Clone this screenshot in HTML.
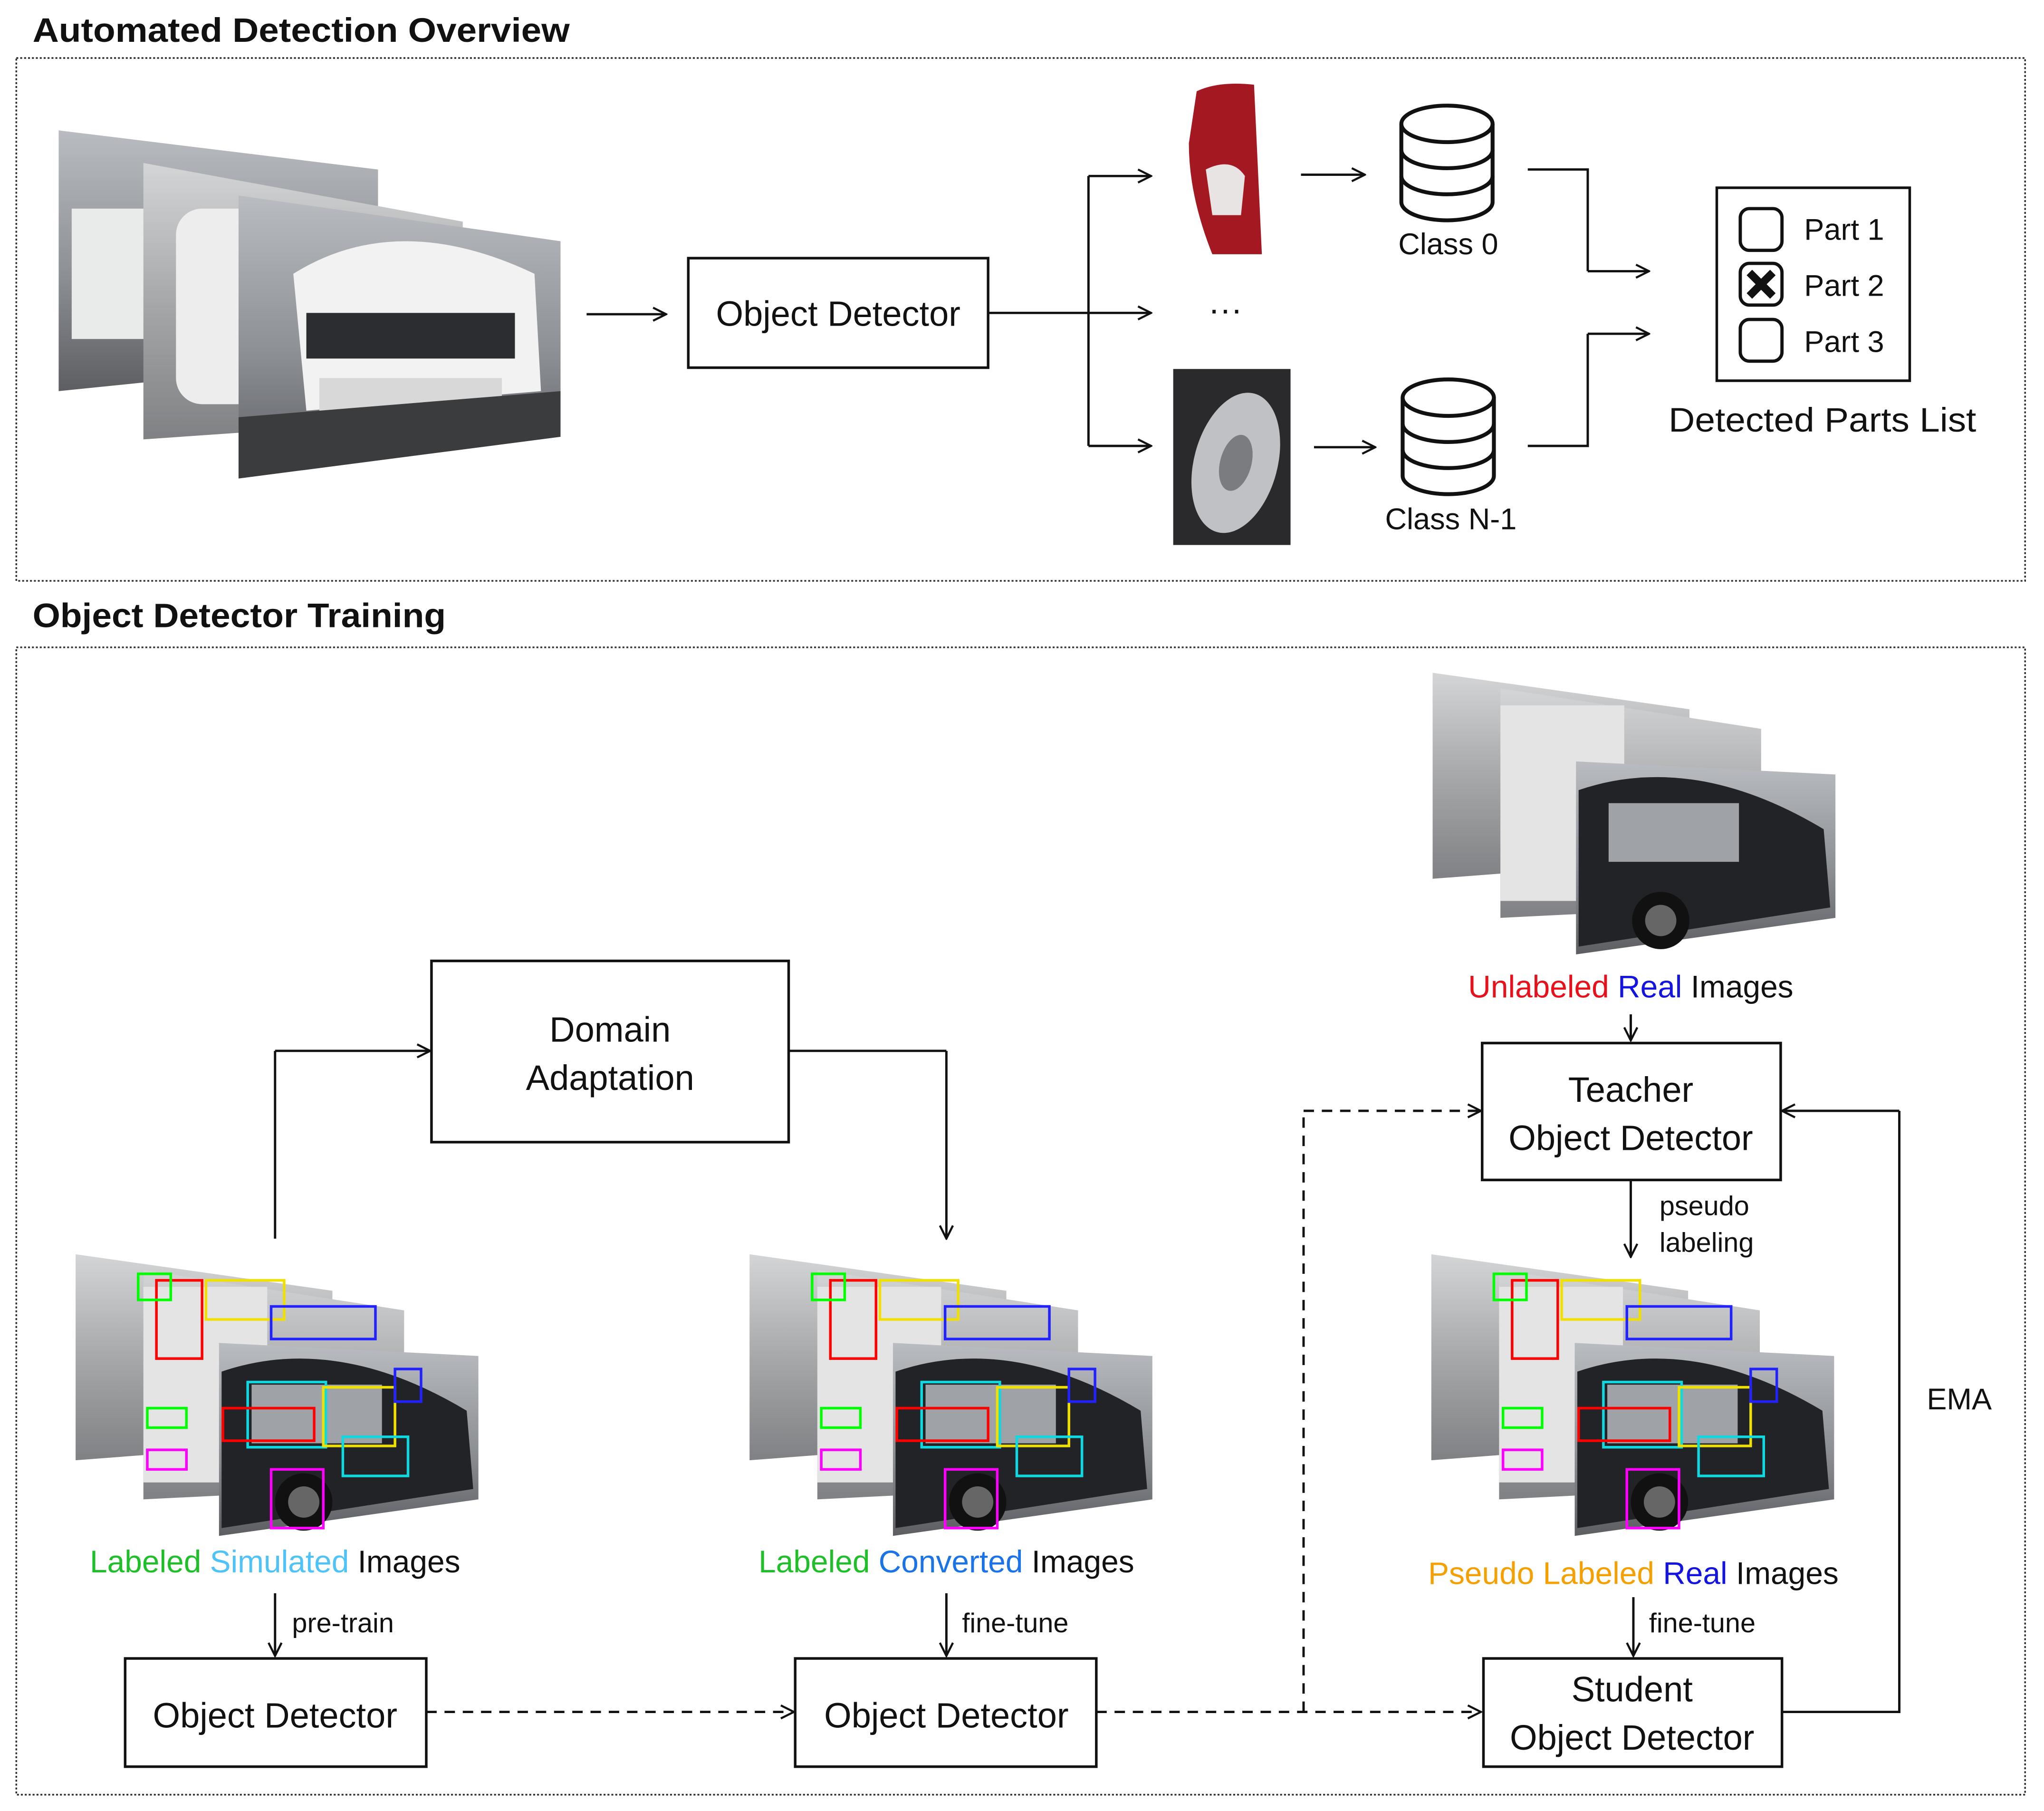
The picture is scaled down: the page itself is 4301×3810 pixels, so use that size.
<!DOCTYPE html>
<html><head><meta charset="utf-8"><style>
html,body{margin:0;padding:0;background:#fff}
svg{display:block}
text{font-family:"Liberation Sans",sans-serif;fill:#111}
</style></head><body>
<svg width="4301" height="3810" viewBox="0 0 1568 1389" xmlns="http://www.w3.org/2000/svg">
<defs>
<marker id="ah" viewBox="0 0 12 12" refX="11" refY="6" markerWidth="12" markerHeight="12" markerUnits="userSpaceOnUse" orient="auto"><path d="M1,1 L11,6 L1,11" fill="none" stroke="#111" stroke-width="1.6"/></marker>
<linearGradient id="bg1" x1="0" y1="0" x2="0" y2="1"><stop offset="0" stop-color="#b9bcc0"/><stop offset="0.55" stop-color="#8d9095"/><stop offset="1" stop-color="#5c5e62"/></linearGradient>
<linearGradient id="bg2" x1="0" y1="0" x2="0" y2="1"><stop offset="0" stop-color="#d4d5d6"/><stop offset="0.5" stop-color="#a7a8aa"/><stop offset="1" stop-color="#808184"/></linearGradient>
<g id="stackW">
<polygon points="0,0 245,30 245,175 0,200" fill="url(#bg1)"/>
<rect x="10" y="60" width="60" height="100" fill="#e9eaea"/>
<polygon points="65,25 310,70 310,220 65,237" fill="url(#bg2)"/>
<rect x="90" y="60" width="120" height="150" fill="#ededee" rx="20"/>
<polygon points="138,50 385,85 385,235 138,267" fill="url(#bg1)"/>
<path d="M180,110 Q260,60 365,110 L370,200 L190,215 Z" fill="#f2f2f2"/>
<rect x="190" y="140" width="160" height="35" fill="#2b2d30"/>
<rect x="200" y="190" width="140" height="25" fill="#d8d8d8"/>
<polygon points="138,220 385,200 385,235 138,267" fill="#3b3c3e"/>
</g>
<g id="stackD">
<polygon points="0,0 197,28 197,143 0,158" fill="url(#bg2)"/>
<polygon points="52,12 252,43 252,178 52,188" fill="url(#bg2)"/>
<rect x="52" y="25" width="95" height="150" fill="#e4e4e4"/>
<polygon points="110,68 309,78 309,188 110,216" fill="url(#bg1)"/>
<path d="M112,90 Q200,60 300,120 L305,180 L112,210 Z" fill="#222326"/>
<rect x="135" y="100" width="100" height="45" fill="#9fa2a6"/>
<circle cx="175" cy="190" r="22" fill="#111"/><circle cx="175" cy="190" r="12" fill="#666"/>
</g>
<g id="boxes">
<rect x="132" y="98" width="60" height="50" fill="none" stroke="#10d8e0" stroke-width="2"/>
<rect x="190" y="102" width="55" height="45" fill="none" stroke="#f0e000" stroke-width="2"/>
<rect x="113" y="118" width="70" height="25" fill="none" stroke="#f00" stroke-width="2"/>
<rect x="150" y="165" width="40" height="45" fill="none" stroke="#f0f" stroke-width="2"/>
<rect x="205" y="140" width="50" height="30" fill="none" stroke="#10d8e0" stroke-width="2"/>
<rect x="245" y="88" width="20" height="25" fill="none" stroke="#22f" stroke-width="2"/>
<rect x="62" y="20" width="35" height="60" fill="none" stroke="#f00" stroke-width="2"/>
<rect x="48" y="15" width="25" height="20" fill="none" stroke="#0f0" stroke-width="2"/>
<rect x="55" y="118" width="30" height="15" fill="none" stroke="#0f0" stroke-width="2"/>
<rect x="55" y="150" width="30" height="15" fill="none" stroke="#f0f" stroke-width="2"/>
<rect x="100" y="20" width="60" height="30" fill="none" stroke="#f0e000" stroke-width="2"/>
<rect x="150" y="40" width="80" height="25" fill="none" stroke="#22f" stroke-width="2"/>
</g>
</defs>

<text x="25" y="32" font-size="26" font-weight="bold" textLength="412" lengthAdjust="spacingAndGlyphs">Automated Detection Overview</text>
<rect x="12.5" y="44.5" width="1541" height="401" fill="none" stroke="#333" stroke-width="1.3" stroke-dasharray="1.5,1.5"/>
<use href="#stackW" x="45" y="100"/>
<line x1="450" y1="241" x2="511" y2="241" stroke="#111" stroke-width="1.8" marker-end="url(#ah)"/>
<rect x="528" y="198" width="230" height="84" fill="#fff" stroke="#111" stroke-width="2"/>
<text x="643" y="250" font-size="27" text-anchor="middle">Object Detector</text>
<path d="M758,240 H835 M835,135 V342" stroke="#111" stroke-width="1.8" fill="none"/>
<line x1="835" y1="135" x2="883" y2="135" stroke="#111" stroke-width="1.8" marker-end="url(#ah)"/>
<line x1="835" y1="240" x2="883" y2="240" stroke="#111" stroke-width="1.8" marker-end="url(#ah)"/>
<line x1="835" y1="342" x2="883" y2="342" stroke="#111" stroke-width="1.8" marker-end="url(#ah)"/>
<path d="M918,70 Q935,62 962,65 L968,195 L930,195 Q912,150 912,110 Z" fill="#a41822"/>
<path d="M925,130 Q945,120 955,135 L952,165 L930,165 Z" fill="#e8e4e4"/>
<text x="940" y="246" font-size="26" text-anchor="middle">···</text>
<rect x="900" y="283" width="90" height="135" fill="#2a2a2c"/>
<ellipse cx="948" cy="355" rx="32" ry="55" fill="#bfc1c4" transform="rotate(15 948 355)"/>
<ellipse cx="948" cy="355" rx="12" ry="22" fill="#7a7c80" transform="rotate(15 948 355)"/>
<line x1="998" y1="134" x2="1047" y2="134" stroke="#111" stroke-width="1.8" marker-end="url(#ah)"/>
<line x1="1008" y1="343" x2="1055" y2="343" stroke="#111" stroke-width="1.8" marker-end="url(#ah)"/>
<g fill="#fff" stroke="#111" stroke-width="3">
<path d="M1075,95 V155 A35,14 0 0 0 1145,155 V95"/>
<ellipse cx="1110" cy="95" rx="35" ry="14"/>
<path d="M1075,115 A35,14 0 0 0 1145,115 M1075,135 A35,14 0 0 0 1145,135" fill="none"/>
<path d="M1076,305 V365 A35,14 0 0 0 1146,365 V305"/>
<ellipse cx="1111" cy="305" rx="35" ry="14"/>
<path d="M1076,325 A35,14 0 0 0 1146,325 M1076,345 A35,14 0 0 0 1146,345" fill="none"/>
</g>
<text x="1111" y="195" font-size="23" text-anchor="middle">Class 0</text>
<text x="1113" y="406" font-size="23" text-anchor="middle">Class N-1</text>
<path d="M1172,130 H1218 V208" stroke="#111" stroke-width="1.8" fill="none"/>
<line x1="1218" y1="208" x2="1265" y2="208" stroke="#111" stroke-width="1.8" marker-end="url(#ah)"/>
<path d="M1172,342 H1218 V256" stroke="#111" stroke-width="1.8" fill="none"/>
<line x1="1218" y1="256" x2="1265" y2="256" stroke="#111" stroke-width="1.8" marker-end="url(#ah)"/>
<rect x="1317" y="144" width="148" height="148" fill="#fff" stroke="#111" stroke-width="2"/>
<g fill="#fff" stroke="#111" stroke-width="2.5">
<rect x="1335" y="160" width="32" height="32" rx="7"/>
<rect x="1335" y="202" width="32" height="32" rx="7"/>
<rect x="1335" y="245" width="32" height="32" rx="7"/>
</g>
<path d="M1342,209 L1360,227 M1360,209 L1342,227" stroke="#111" stroke-width="6"/>
<text x="1384" y="184" font-size="23">Part 1</text>
<text x="1384" y="227" font-size="23">Part 2</text>
<text x="1384" y="270" font-size="23">Part 3</text>
<text x="1398" y="331" font-size="26" text-anchor="middle" textLength="236" lengthAdjust="spacingAndGlyphs">Detected Parts List</text>

<text x="25" y="481" font-size="26" font-weight="bold" textLength="317" lengthAdjust="spacingAndGlyphs">Object Detector Training</text>
<rect x="12.5" y="496.5" width="1541" height="880" fill="none" stroke="#333" stroke-width="1.3" stroke-dasharray="1.5,1.5"/>

<rect x="331" y="737" width="274" height="139" fill="#fff" stroke="#111" stroke-width="2"/>
<text x="468" y="799" font-size="27" text-anchor="middle">Domain</text>
<text x="468" y="836" font-size="27" text-anchor="middle">Adaptation</text>
<path d="M211,950 V806" stroke="#111" stroke-width="1.8" fill="none"/>
<line x1="211" y1="806" x2="330" y2="806" stroke="#111" stroke-width="1.8" marker-end="url(#ah)"/>
<path d="M605,806 H726" stroke="#111" stroke-width="1.8" fill="none"/>
<line x1="726" y1="806" x2="726" y2="950" stroke="#111" stroke-width="1.8" marker-end="url(#ah)"/>

<use href="#stackD" x="58" y="962"/><use href="#boxes" x="58" y="962"/>
<use href="#stackD" x="575" y="962"/><use href="#boxes" x="575" y="962"/>
<use href="#stackD" x="1099" y="516"/>
<use href="#stackD" x="1098" y="962"/><use href="#boxes" x="1098" y="962"/>

<text x="211" y="1206" font-size="24" text-anchor="middle"><tspan style="fill:#1fbf2a">Labeled</tspan> <tspan style="fill:#4fc3f7">Simulated</tspan> Images</text>
<text x="726" y="1206" font-size="24" text-anchor="middle"><tspan style="fill:#1fbf2a">Labeled</tspan> <tspan style="fill:#1a73e8">Converted</tspan> Images</text>
<text x="1251" y="765" font-size="24" text-anchor="middle"><tspan style="fill:#e8101a">Unlabeled</tspan> <tspan style="fill:#1414e0">Real</tspan> Images</text>
<text x="1253" y="1215" font-size="24" text-anchor="middle"><tspan style="fill:#f5a000">Pseudo Labeled</tspan> <tspan style="fill:#1414e0">Real</tspan> Images</text>

<line x1="211" y1="1222" x2="211" y2="1270" stroke="#111" stroke-width="1.8" marker-end="url(#ah)"/>
<text x="224" y="1252" font-size="21">pre-train</text>
<line x1="726" y1="1222" x2="726" y2="1270" stroke="#111" stroke-width="1.8" marker-end="url(#ah)"/>
<text x="738" y="1252" font-size="21">fine-tune</text>
<line x1="1251" y1="778" x2="1251" y2="798" stroke="#111" stroke-width="1.8" marker-end="url(#ah)"/>
<line x1="1251" y1="905" x2="1251" y2="964" stroke="#111" stroke-width="1.8" marker-end="url(#ah)"/>
<text x="1273" y="932" font-size="21">pseudo</text>
<text x="1273" y="960" font-size="21">labeling</text>
<line x1="1253" y1="1225" x2="1253" y2="1270" stroke="#111" stroke-width="1.8" marker-end="url(#ah)"/>
<text x="1265" y="1252" font-size="21">fine-tune</text>

<rect x="96" y="1272" width="231" height="83" fill="#fff" stroke="#111" stroke-width="2"/>
<text x="211" y="1325" font-size="27" text-anchor="middle">Object Detector</text>
<rect x="610" y="1272" width="231" height="83" fill="#fff" stroke="#111" stroke-width="2"/>
<text x="726" y="1325" font-size="27" text-anchor="middle">Object Detector</text>
<rect x="1137" y="800" width="229" height="105" fill="#fff" stroke="#111" stroke-width="2"/>
<text x="1251" y="845" font-size="27" text-anchor="middle">Teacher</text>
<text x="1251" y="882" font-size="27" text-anchor="middle">Object Detector</text>
<rect x="1138" y="1272" width="229" height="83" fill="#fff" stroke="#111" stroke-width="2"/>
<text x="1252" y="1305" font-size="27" text-anchor="middle">Student</text>
<text x="1252" y="1342" font-size="27" text-anchor="middle">Object Detector</text>

<line x1="327" y1="1313" x2="609" y2="1313" stroke="#111" stroke-width="1.8" stroke-dasharray="8,6" marker-end="url(#ah)"/>
<line x1="841" y1="1313" x2="1136" y2="1313" stroke="#111" stroke-width="1.8" stroke-dasharray="8,6" marker-end="url(#ah)"/>
<path d="M1000,1313 V852" stroke="#111" stroke-width="1.8" stroke-dasharray="8,6" fill="none"/>
<line x1="1000" y1="852" x2="1136" y2="852" stroke="#111" stroke-width="1.8" stroke-dasharray="8,6" marker-end="url(#ah)"/>
<path d="M1367,1313 H1457 V852" stroke="#111" stroke-width="1.8" fill="none"/>
<line x1="1457" y1="852" x2="1367" y2="852" stroke="#111" stroke-width="1.8" marker-end="url(#ah)"/>
<text x="1503" y="1081" font-size="23" text-anchor="middle">EMA</text>
</svg>
</body></html>
